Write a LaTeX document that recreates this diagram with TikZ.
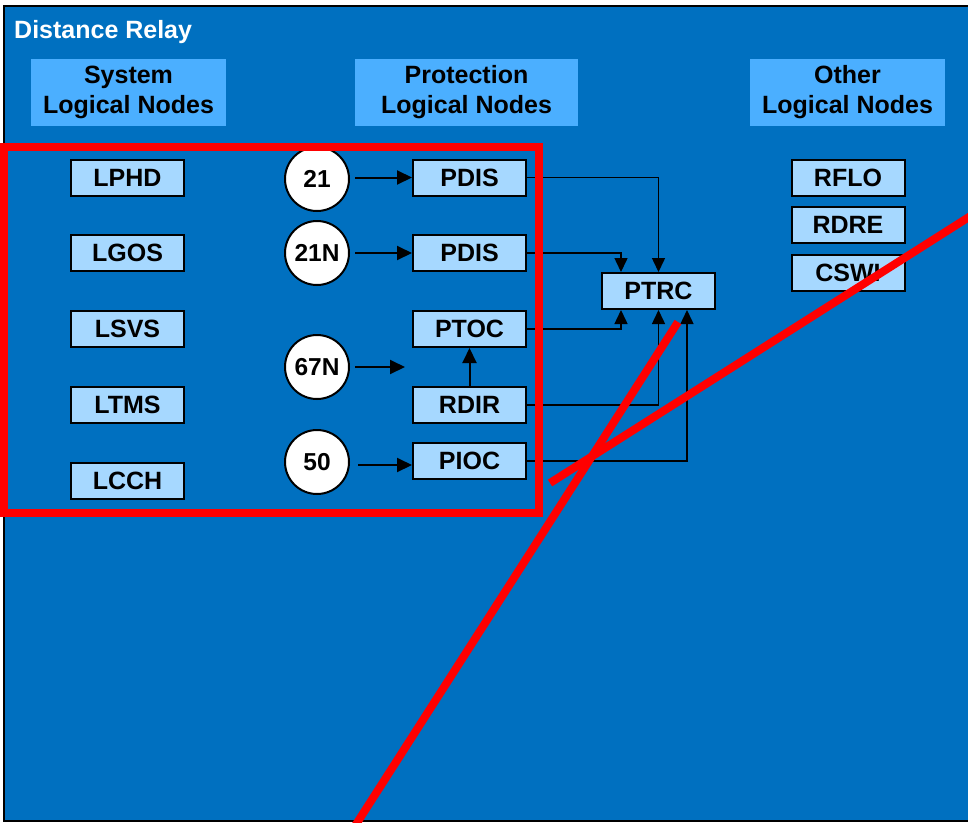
\documentclass[tikz,border=0pt]{standalone}
\usepackage{fontspec}
\setmainfont{Liberation Sans}
\usetikzlibrary{arrows.meta}

\definecolor{relayblue}{HTML}{0070C0}
\definecolor{headfill}{HTML}{4BAFFF}
\definecolor{lnfill}{HTML}{A6D8FF}

\begin{document}
\begin{tikzpicture}[x=1pt,y=-1pt,
  lnbox/.style={draw=black, line width=2pt, fill=lnfill, minimum width=113pt,
    minimum height=36pt, inner sep=0pt, font=\fontsize{25}{28}\selectfont\bfseries},
  header/.style={fill=headfill, minimum height=67pt, inner sep=0pt, align=center,
    font=\fontsize{25}{30}\selectfont\bfseries},
  fnc/.style={circle, draw=black, line width=2pt, fill=white, minimum size=64pt,
    inner sep=0pt, font=\fontsize{24.5}{28}\selectfont\bfseries},
  feed/.style={line width=2pt, -{Triangle[length=15pt,width=14pt]}},
  trip/.style={line width=1.5pt, -{Triangle[length=14pt,width=13pt]}},
  cross/.style={draw=red, line width=8pt}]

\useasboundingbox (0,0) rectangle (968,822);
\clip (0,0) rectangle (968,822);
\fill[white] (0,0) rectangle (968,822);

% device frame
\draw[fill=relayblue, line width=2pt] (4,6) rectangle (990,821);
\node[anchor=base west, text=white, font=\fontsize{25}{28}\selectfont\bfseries,
  inner sep=0pt] (title) at (14,38) {Distance Relay};

% column headings
\node[header, minimum width=195pt] (hsys) at (128.5,92.5) {System\\Logical Nodes};
\node[header, minimum width=223pt] (hprot) at (466.5,92.5) {Protection\\Logical Nodes};
\node[header, minimum width=195pt] (hoth) at (847.5,92.5) {Other\\Logical Nodes};

% system logical nodes
\node[lnbox] (lphd) at (127.5,177.5) {LPHD};
\node[lnbox] (lgos) at (127.5,253) {LGOS};
\node[lnbox] (lsvs) at (127.5,329) {LSVS};
\node[lnbox] (ltms) at (127.5,405) {LTMS};
\node[lnbox] (lcch) at (127.5,480.5) {LCCH};

% protection functions
\node[fnc] (f21) at (317,179) {21};
\node[fnc] (f21n) at (317,253) {21N};
\node[fnc] (f67n) at (317,367) {67N};
\node[fnc] (f50) at (317,462) {50};

% protection logical nodes
\node[lnbox] (pdisa) at (469.5,177.5) {PDIS};
\node[lnbox] (pdisb) at (469.5,253) {PDIS};
\node[lnbox] (ptoc) at (469.5,329) {PTOC};
\node[lnbox] (rdir) at (469.5,405) {RDIR};
\node[lnbox] (pioc) at (469.5,461) {PIOC};
\node[lnbox] (ptrc) at (658.5,291) {PTRC};
\coordinate (dirin) at (405,367);

% other logical nodes
\node[lnbox] (rflo) at (848,177.5) {RFLO};
\node[lnbox] (rdre) at (848,225) {RDRE};
\node[lnbox] (cswi) at (848,272.5) {CSWI};

% function to logical node
\draw[feed, shorten <=5pt] (f21.east |- pdisa) -- (pdisa.west);
\draw[feed, shorten <=5pt] (f21n.east) -- (pdisb.west);
\draw[feed, shorten <=5pt] (f67n.east) -- (dirin);
\draw[feed, shorten <=8pt] ([yshift=-3pt]f50.east) -- ([yshift=-3pt]f50.east -| pioc.west);
\draw[feed] (rdir.north) -- (ptoc.south);

% trip signals
\draw[trip] (pdisa.east) -| (ptrc.north);
\draw[trip] (pdisb.east) -| ([xshift=-37.5pt]ptrc.north);
\draw[trip] (ptoc.east) -| ([xshift=-37.5pt]ptrc.south);
\draw[trip] (rdir.east) -| (ptrc.south);
\draw[trip] (pioc.east) -| ([xshift=28.5pt]ptrc.south);

% marking
\draw[cross] (4,147) rectangle (539,513);
\draw[cross] (355,826) -- (678,322);
\draw[cross] (550,483) -- (980,210);
\end{tikzpicture}
\end{document}
